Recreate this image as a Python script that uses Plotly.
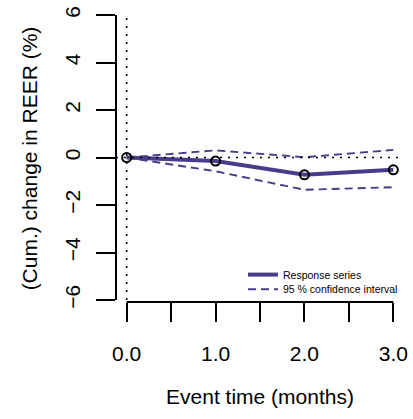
import plotly.graph_objects as go

# Data
event_time = [0, 1, 2, 3]
response = [0.0, -0.15, -0.73, -0.52]
ci_upper = [0.0, 0.30, 0.01, 0.32]
ci_lower = [0.0, -0.58, -1.36, -1.25]
x_tickvals = [0, 0.5, 1, 1.5, 2, 2.5, 3]
x_ticktext = ["0.0", "", "1.0", "", "2.0", "", "3.0"]
y_tickvals = [-6, -4, -2, 0, 2, 4, 6]

line_col = "#483D8B"
font_family = "Liberation Sans, Arial, Helvetica, sans-serif"

W, H = 413, 419
ml, mr, mt, mb = 116, 9.3, 15, 117
xr = [-0.12, 3.12]
yr = [-6.084, 6.0]

def xfrac(v):
    return (v - xr[0]) / (xr[1] - xr[0])

def yfrac(v):
    return (v - yr[0]) / (yr[1] - yr[0])

fig = go.Figure()

fig.add_trace(go.Scatter(x=event_time, y=response, mode="lines",
                         line=dict(color=line_col, width=4),
                         name="Response series", hoverinfo="skip", legend="legend"))
fig.add_trace(go.Scatter(x=event_time, y=ci_upper, mode="lines",
                         line=dict(color=line_col, width=1.9, dash="8px,5px"),
                         name="95 % confidence interval", hoverinfo="skip", legend="legend2"))
fig.add_trace(go.Scatter(x=event_time, y=ci_lower, mode="lines",
                         line=dict(color=line_col, width=1.9, dash="8px,5px"),
                         name="95 % confidence interval", showlegend=False, hoverinfo="skip"))
fig.add_trace(go.Scatter(x=event_time, y=response, mode="markers",
                         marker=dict(symbol="circle-open", size=9, color="black",
                                     line=dict(color="black", width=2)),
                         showlegend=False, hoverinfo="skip"))

# reference lines (dotted)
fig.add_shape(type="line", xref="x", yref="y", x0=xr[0], x1=xr[1], y0=0, y1=0,
              line=dict(color="black", width=1.6, dash="2px,6px"), layer="above")
fig.add_shape(type="line", xref="x", yref="y", x0=0, x1=0, y0=-6, y1=yr[1],
              line=dict(color="black", width=1.6, dash="2px,6px"), layer="above")

# axis lines spanning first to last tick (R style)
fig.add_shape(type="line", xref="x domain", yref="y domain",
              x0=xfrac(x_tickvals[0]), x1=xfrac(x_tickvals[-1]), y0=0, y1=0,
              line=dict(color="black", width=2))
fig.add_shape(type="line", xref="x domain", yref="y domain",
              x0=0, x1=0, y0=yfrac(y_tickvals[0]), y1=yfrac(y_tickvals[-1]),
              line=dict(color="black", width=2))

leg_common = dict(xanchor="left", yanchor="top",
                  font=dict(size=10.5, family=font_family),
                  bgcolor="rgba(0,0,0,0)", borderwidth=0, tracegroupgap=0,
                  itemwidth=30)

fig.update_layout(
    width=W, height=H,
    margin=dict(l=ml, r=mr, t=mt, b=mb, pad=0, autoexpand=False),
    paper_bgcolor="white", plot_bgcolor="white",
    font=dict(family=font_family, color="black", size=21),
    showlegend=True,
    legend=dict(x=0.441, y=0.146, **leg_common),
    legend2=dict(x=0.441, y=0.095, **leg_common),
    hovermode=False,
)
fig.update_xaxes(range=xr, showgrid=False, zeroline=False, showline=False,
                 automargin=False,
                 tickmode="array", tickvals=x_tickvals, ticktext=x_ticktext,
                 ticks="outside", ticklen=19, tickwidth=2, tickcolor="black",
                 ticklabelstandoff=14,
                 tickfont=dict(size=21),
                 title=dict(text="Event time (months)", font=dict(size=21), standoff=25))
fig.update_yaxes(range=yr, showgrid=False, zeroline=False, showline=False,
                 automargin=False,
                 tickmode="array", tickvals=y_tickvals,
                 ticks="outside", ticklen=19, tickwidth=2, tickcolor="black",
                 tickangle=-90, ticklabelstandoff=8,
                 tickfont=dict(size=21),
                 title=dict(text="(Cum.) change in REER (%)", font=dict(size=21), standoff=17))

fig.write_html("out.html",
               config={"displayModeBar": False, "staticPlot": True},
               post_script="document.body.style.margin='0';document.body.style.overflow='hidden';")
